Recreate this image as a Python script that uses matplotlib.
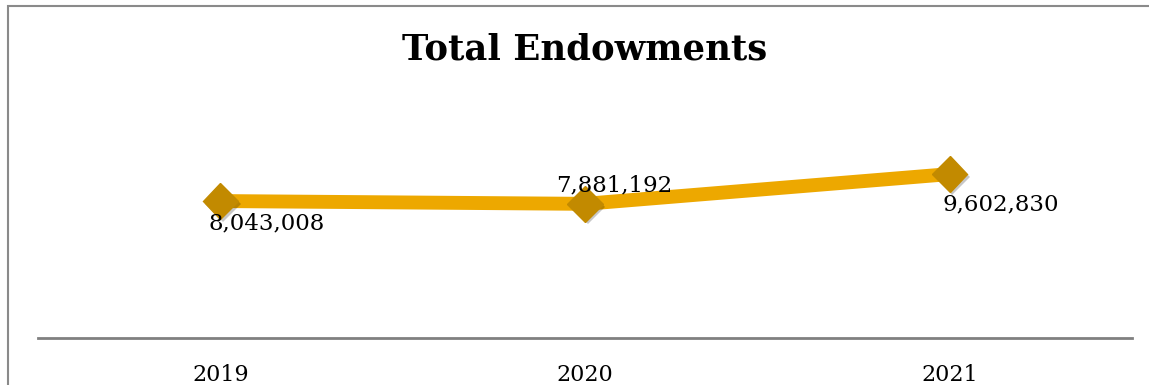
import matplotlib
matplotlib.use("Agg")
import matplotlib.pyplot as plt
import matplotlib.patheffects as pe
from matplotlib.patches import Rectangle

years = ["2019", "2020", "2021"]
values = [8043008, 7881192, 9602830]
labels = ["8,043,008", "7,881,192", "9,602,830"]
label_offsets_px = [(46, -22), (29, 18), (51, -30)]

W, H = 1149, 385
fig = plt.figure(figsize=(W / 100, H / 100), dpi=100)
fig.patch.set_facecolor("white")

# outer frame (left and top edges visible)
fig.add_artist(Rectangle((8 / W, -0.1), 1.2, (H - 6) / H + 0.1, transform=fig.transFigure,
                         fill=False, edgecolor="#8a8a8a", linewidth=1.5))

ax = fig.add_axes([38 / W, (H - 338) / H, 1094 / W, (338 - 96) / H])
ax.set_facecolor("none")
x = list(range(len(years)))
ax.plot(x, values, color="#EDA800", linewidth=10, solid_capstyle="butt", zorder=2)
ax.plot(x, values, linestyle="none", marker="D", markersize=18, color="#C28A00",
        markeredgecolor="#C28A00", zorder=3,
        path_effects=[pe.SimplePatchShadow(offset=(2, -2), shadow_rgbFace="#000000", alpha=0.22),
                      pe.Normal()])

ax.set_xlim(-0.5, 2.5)
ax.set_ylim(0.12e6, 14.12e6)
for s in ["top", "right", "left"]:
    ax.spines[s].set_visible(False)
ax.spines["bottom"].set_color("#808080")
ax.spines["bottom"].set_linewidth(2)
ax.set_xticks(x)
ax.set_xticklabels(years, fontfamily="DejaVu Serif", fontsize=16)
ax.tick_params(axis="x", length=0, pad=18.5)
ax.set_yticks([])

for xi, v, lab, (dx, dy) in zip(x, values, labels, label_offsets_px):
    ax.annotate(lab, (xi, v), xytext=(dx * 0.72, dy * 0.72), textcoords="offset points",
                ha="center", va="center", fontfamily="DejaVu Serif", fontsize=16.5, color="black",
                zorder=4)

fig.text(585 / W, 1 - 49 / H, "Total Endowments", ha="center", va="center",
         fontfamily="DejaVu Serif", fontweight="bold", fontsize=25.5)

fig.savefig("out.png", dpi=100)
